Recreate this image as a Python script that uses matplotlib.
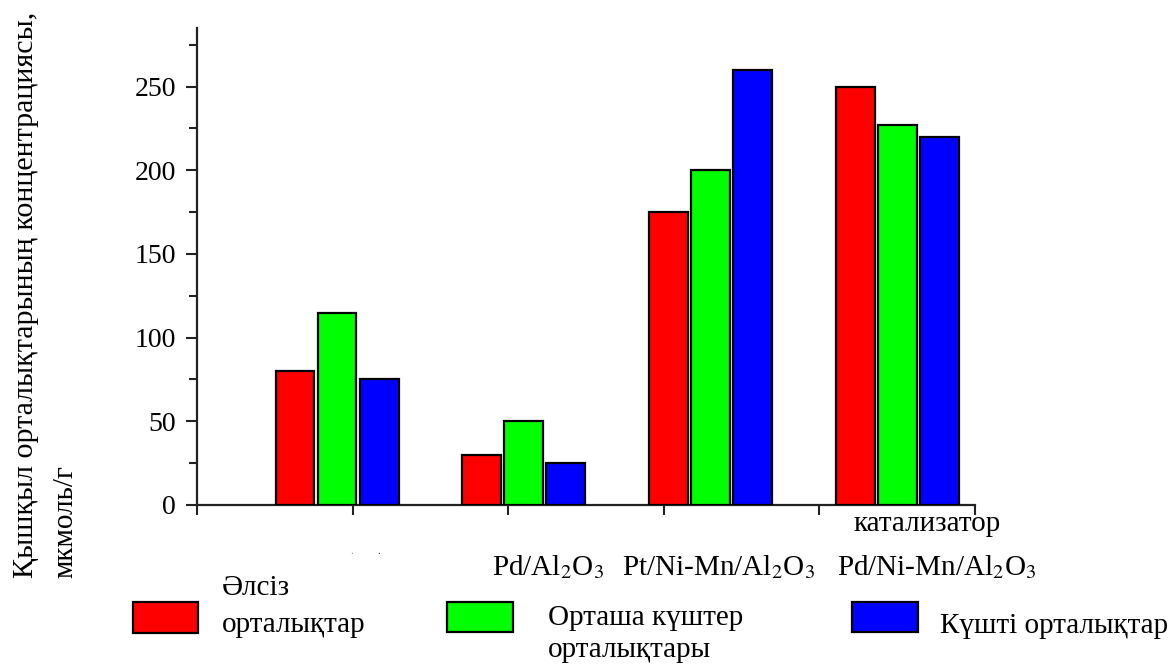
import matplotlib
matplotlib.use("Agg")
import matplotlib.pyplot as plt
from matplotlib.patches import Rectangle
from matplotlib.ticker import MultipleLocator

plt.rcParams['font.family'] = ['Liberation Serif', 'DejaVu Serif']
plt.rcParams['mathtext.fontset'] = 'stix'

# ---- data ----
catalysts = ["", "Pd/Al$_2$O$_3$", "Pt/Ni-Mn/Al$_2$O$_3$", "Pd/Ni-Mn/Al$_2$O$_3$"]
weak = [80, 30, 175, 250]
medium = [115, 50, 200, 227]
strong = [75, 25, 260, 220]
series_labels = ["Әлсіз\nорталықтар", "Орташа күштер\nорталықтары", "Күшті орталықтар"]
series_colors = ["#FF0000", "#00FF00", "#0000FF"]
y_label_line1 = "Қышқыл орталықтарының концентрациясы,"
y_label_line2 = "мкмоль/г"
x_label = "катализатор"

W, H = 1173, 664
fig = plt.figure(figsize=(W / 100, H / 100), dpi=100)

def fx(px):
    return px / W

def fy(py):
    return 1 - py / H

ax = fig.add_axes([fx(197), fy(505), fx(975) - fx(197), fy(28) - fy(505)])

width = 0.25
step = 0.27
centers = [0.9 + 1.2 * i for i in range(len(catalysts))]
for k, (vals, col) in enumerate(zip([weak, medium, strong], series_colors)):
    xs = [c + (k - 1) * step for c in centers]
    ax.bar(xs, vals, width=width, color=col, edgecolor="black", linewidth=1.6, zorder=3)

ax.set_xlim(0, 5)
ax.set_ylim(0, 285)
ax.set_xticks([0, 1, 2, 3, 4, 5])
ax.set_xticklabels([])
ax.set_yticks([0, 50, 100, 150, 200, 250])
ax.set_yticks([25, 75, 125, 175, 225, 275], minor=True)
ax.spines['top'].set_visible(False)
ax.spines['right'].set_visible(False)
for s in ['left', 'bottom']:
    ax.spines[s].set_linewidth(1.6)
    ax.spines[s].set_color('#222222')
ax.tick_params(axis='y', which='major', direction='out', length=8, width=1.5, labelsize=20, pad=7, colors='#222222', labelcolor='black')
ax.tick_params(axis='y', which='minor', direction='out', length=6, width=1.5, colors='#222222')
ax.tick_params(axis='x', which='major', direction='out', length=7, width=1.5, colors='#222222')

# x category labels
label_x = [None, 492, 622, 837]
for lx, name in zip(label_x, catalysts):
    if lx is None or not name:
        continue
    fig.text(fx(lx), fy(575), name, fontsize=21, ha='left', va='baseline')

# faint marks of the clipped first label
fig.text(fx(350), fy(554), ".", fontsize=8, color='#888888', ha='left', va='baseline')
fig.text(fx(377), fy(554), ".", fontsize=8, color='#333333', ha='left', va='baseline')

fig.text(fx(854), fy(531), x_label, fontsize=21, ha='left', va='baseline')

# y label (two rotated lines)
fig.text(fx(33), fy(578), y_label_line1, fontsize=21.6, rotation=90,
         rotation_mode='anchor', ha='left', va='baseline')
fig.text(fx(72), fy(578), y_label_line2, fontsize=21, rotation=90,
         rotation_mode='anchor', ha='left', va='baseline')

# legend (manual)
patches = [(133, 602, 198, 633), (447, 602, 513, 632), (852, 602, 918, 632)]
for (x0, y0, x1, y1), col in zip(patches, series_colors):
    fig.add_artist(Rectangle((fx(x0), fy(y1)), fx(x1) - fx(x0), fy(y0) - fy(y1),
                             transform=fig.transFigure, facecolor=col,
                             edgecolor='black', linewidth=1.6))

legend_text_pos = [
    [(222, 595), (222, 632)],
    [(548, 625), (548, 657)],
    [(940, 633)],
]
for lab, poss in zip(series_labels, legend_text_pos):
    lines = lab.split("\n")
    if len(poss) == 1:
        lines = [" ".join(lines)]
    for line, (px, py) in zip(lines, poss):
        fig.text(fx(px), fy(py), line, fontsize=21, ha='left', va='baseline')

fig.savefig("out.png", dpi=100)
